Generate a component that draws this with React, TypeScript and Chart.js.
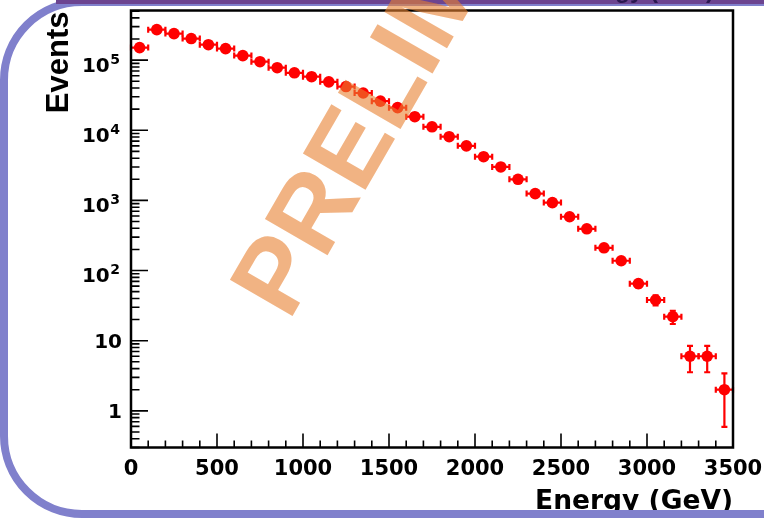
import React, { useEffect, useRef } from 'react';
import { Chart, registerables } from 'chart.js';

Chart.register(...registerables);

// ---- data ----
const binCenters = [
  50, 150, 250, 350, 450, 550, 650, 750, 850, 950,
  1050, 1150, 1250, 1350, 1450, 1550, 1650, 1750, 1850, 1950,
  2050, 2150, 2250, 2350, 2450, 2550, 2650, 2750, 2850, 2950,
  3050, 3150, 3250, 3350, 3450,
];
const counts = [
  151000, 272000, 239000, 203000, 166000, 146000, 116000, 95000, 78000, 66000,
  58000, 49000, 42000, 34000, 26000, 21000, 15600, 11200, 8100, 6000,
  4200, 3000, 2000, 1250, 930, 585, 394, 211, 138, 65,
  38, 22, 6, 6, 2,
];
const countErrors = [
  389, 522, 489, 451, 407, 382, 341, 308, 279, 257,
  241, 221, 205, 184, 161, 145, 125, 106, 90, 77,
  65, 55, 45, 35, 30.5, 24.2, 19.8, 14.5, 11.7, 8.1,
  6.2, 4.7, 2.45, 2.45, 1.41,
];
const binHalfWidth = 50;

const xMin = 0;
const xMax = 3500;
const yMin = 0.3;
const yMax = 5.1e5;

const xMajorTicks = [0, 500, 1000, 1500, 2000, 2500, 3000, 3500];
const xMinorStep = 100;
const yMajorTicks = [1, 10, 100, 1000, 10000, 100000];
const yLabelBase = ['1', '10', '10', '10', '10', '10'];
const yLabelExp = ['', '', '2', '3', '4', '5'];
const yMinorMultipliers = [2, 3, 4, 5, 6, 7, 8, 9];
const yDecades = [-1, 0, 1, 2, 3, 4, 5];

const xTitle = 'Energy (GeV)';
const yTitle = 'Events';
const watermarkText = 'PRELIMINARY';
const topCutText = 'Energy (GeV)';

// ---- style ----
const RED = '#ff0000';
const LAVENDER = '#8080cc';
const DARK_PURPLE = '#6c4490';

const rootStylePlugin = {
  id: 'rootStyle',
  beforeDatasetsDraw(chart: any) {
    const { ctx } = chart;
    const xs = chart.scales.x;
    const ys = chart.scales.y;
    ctx.save();
    ctx.strokeStyle = RED;
    ctx.lineWidth = 2.2;
    for (let i = 0; i < binCenters.length; i++) {
      const c = binCenters[i];
      const n = counts[i];
      const e = countErrors[i];
      const px = xs.getPixelForValue(c);
      const py = ys.getPixelForValue(n);
      const xl = xs.getPixelForValue(c - binHalfWidth);
      const xr = xs.getPixelForValue(c + binHalfWidth);
      const yt = ys.getPixelForValue(n + e);
      const yb = ys.getPixelForValue(Math.max(n - e, yMin));
      ctx.beginPath();
      ctx.moveTo(xl, py); ctx.lineTo(xr, py);
      ctx.moveTo(xl, py - 3); ctx.lineTo(xl, py + 3);
      ctx.moveTo(xr, py - 3); ctx.lineTo(xr, py + 3);
      ctx.moveTo(px, yt); ctx.lineTo(px, yb);
      ctx.moveTo(px - 3, yt); ctx.lineTo(px + 3, yt);
      ctx.moveTo(px - 3, yb); ctx.lineTo(px + 3, yb);
      ctx.stroke();
    }
    ctx.restore();
  },
  afterDraw(chart: any) {
    const { ctx, chartArea } = chart;
    const xs = chart.scales.x;
    const ys = chart.scales.y;
    const { left, right, top, bottom } = chartArea;
    ctx.save();

    // frame
    ctx.strokeStyle = '#000';
    ctx.lineWidth = 2.5;
    ctx.strokeRect(left, top, right - left, bottom - top);

    // y ticks
    ctx.lineWidth = 1.6;
    ctx.beginPath();
    for (const d of yDecades) {
      const major = Math.pow(10, d);
      if (major >= yMin && major <= yMax) {
        const p = ys.getPixelForValue(major);
        ctx.moveTo(left, p); ctx.lineTo(left + 17, p);
      }
      for (const k of yMinorMultipliers) {
        const v = k * Math.pow(10, d);
        if (v >= yMin && v <= yMax) {
          const p = ys.getPixelForValue(v);
          ctx.moveTo(left, p); ctx.lineTo(left + 8.5, p);
        }
      }
    }
    // x ticks
    for (let v = xMin; v <= xMax; v += xMinorStep) {
      const p = xs.getPixelForValue(v);
      const isMajor = xMajorTicks.indexOf(v) >= 0;
      ctx.moveTo(p, bottom); ctx.lineTo(p, bottom - (isMajor ? 14 : 7));
    }
    ctx.stroke();

    // x tick labels
    ctx.fillStyle = '#000';
    ctx.font = 'bold 21px "DejaVu Sans"';
    ctx.textAlign = 'center';
    ctx.textBaseline = 'alphabetic';
    for (const v of xMajorTicks) {
      ctx.fillText(String(v), xs.getPixelForValue(v), bottom + 27.5);
    }

    // y tick labels
    ctx.textAlign = 'right';
    for (let i = 0; i < yMajorTicks.length; i++) {
      const p = ys.getPixelForValue(yMajorTicks[i]);
      const exp = yLabelExp[i];
      if (!exp) {
        ctx.font = 'bold 20px "DejaVu Sans"';
        ctx.fillText(yLabelBase[i], left - 9, p + 7.5);
      } else {
        ctx.font = 'bold 14px "DejaVu Sans"';
        const ew = ctx.measureText(exp).width;
        ctx.fillText(exp, left - 11, p + 3.5);
        ctx.font = 'bold 20px "DejaVu Sans"';
        ctx.fillText(yLabelBase[i], left - 11 - ew - 0.5, p + 11.5);
      }
    }

    // axis titles
    ctx.font = 'bold 26.5px "DejaVu Sans"';
    ctx.textAlign = 'right';
    ctx.fillText(xTitle, right, 509);

    ctx.save();
    ctx.translate(68, top + 1);
    ctx.rotate(-Math.PI / 2);
    ctx.font = 'bold 31px "Liberation Sans"';
    ctx.textAlign = 'right';
    ctx.fillText(yTitle, 0, 0);
    ctx.restore();

    // slide border
    ctx.strokeStyle = LAVENDER;
    ctx.lineWidth = 8;
    ctx.beginPath();
    (ctx as any).roundRect(4, 2, 900, 512, 78);
    ctx.stroke();
    ctx.fillStyle = DARK_PURPLE;
    ctx.fillRect(56, 0, 764 - 56, 4);
    ctx.fillStyle = '#2a1850';
    ctx.font = 'bold 24px "Liberation Sans"';
    ctx.textAlign = 'right';
    ctx.fillText(topCutText, 714, -2);

    // watermark
    ctx.save();
    ctx.translate(289, 322);
    ctx.rotate(-60 * Math.PI / 180);
    ctx.font = 'bold 105px "Liberation Sans"';
    ctx.fillStyle = 'rgba(232,128,48,0.6)';
    ctx.textAlign = 'left';
    ctx.fillText(watermarkText, 0, 0);
    ctx.restore();

    ctx.restore();
  },
};

export default function App() {
  const canvasRef = useRef<HTMLCanvasElement | null>(null);

  useEffect(() => {
    const canvas = canvasRef.current;
    if (!canvas) return;
    const points = binCenters.map((c, i) => ({ x: c, y: counts[i] }));
    const chart = new Chart(canvas, {
      type: 'scatter',
      data: {
        datasets: [
          {
            data: points,
            pointStyle: 'circle',
            pointRadius: 5.8,
            pointBackgroundColor: RED,
            pointBorderWidth: 0,
            borderWidth: 0,
          },
        ],
      },
      options: {
        responsive: false,
        animation: false,
        devicePixelRatio: 1,
        layout: { padding: { left: 131, right: 31, top: 10.5, bottom: 70.5 } },
        scales: {
          x: { type: 'linear', min: xMin, max: xMax, display: false },
          y: { type: 'logarithmic', min: yMin, max: yMax, display: false },
        },
        plugins: {
          legend: { display: false },
          tooltip: { enabled: false },
        },
      },
      plugins: [rootStylePlugin],
    });
    return () => chart.destroy();
  }, []);

  return (
    <div style={{ position: 'fixed', left: 0, top: 0, width: 764, height: 518, background: '#fff' }}>
      <canvas ref={canvasRef} width={764} height={518} style={{ display: 'block' }} />
    </div>
  );
}
